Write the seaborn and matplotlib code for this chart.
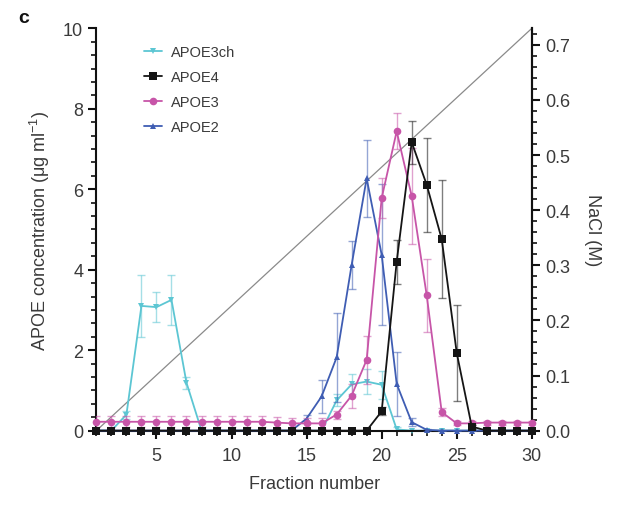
import numpy as np
import pandas as pd
import seaborn as sns
import matplotlib.pyplot as plt
from matplotlib.ticker import MultipleLocator, AutoMinorLocator

# 画分番号
fraction = list(range(1, 31))

# APOE3ch (シアン)
apoe3ch = [0, 0, 0.4, 3.1, 3.07, 3.25, 1.19, 0, 0, 0, 0, 0, 0, 0, 0, 0,
           0.75, 1.15, 1.22, 1.14, 0.03, 0, 0, 0, 0, 0, 0, 0, 0, 0]
apoe3ch_err = [0, 0, 0.1, 0.78, 0.37, 0.62, 0.15, 0, 0, 0, 0, 0, 0, 0, 0, 0,
               0.15, 0.25, 0.3, 0.35, 0.05, 0, 0, 0, 0, 0, 0, 0, 0, 0]

# APOE4 (黒)
apoe4 = [0] * 19 + [0.48, 4.2, 7.17, 6.11, 4.76, 1.93, 0.1, 0, 0, 0, 0]
apoe4_err = [0.02] * 19 + [0.1, 0.55, 0.53, 1.17, 1.47, 1.2, 0.05, 0, 0, 0, 0]

# APOE3 (マゼンタ)
apoe3 = [0.22] * 12 + [0.2, 0.18, 0.18, 0.18] + [0.4, 0.87, 1.76, 5.78, 7.44, 5.83,
                                                 3.36, 0.46, 0.18, 0.18, 0.2, 0.2, 0.2, 0.2]
apoe3_err = [0.14] * 16 + [0.1, 0.3, 0.6, 0.5, 0.45, 1.2, 0.9, 0.1, 0.05, 0.05,
                           0.05, 0.05, 0.05, 0.05]

# APOE2 (青)
apoe2 = [0] * 14 + [0.3, 0.85, 1.82, 4.12, 6.27, 4.37, 1.16, 0.21, 0.02,
                    0, 0, 0, 0, 0, 0, 0]
apoe2_err = [0] * 14 + [0.1, 0.4, 1.1, 0.6, 0.95, 1.75, 0.8, 0.1, 0.02,
                        0, 0, 0, 0, 0, 0, 0]

# NaCl 勾配 (右軸)
nacl_x = [1, 30]
nacl_y = [0, 0.73]

series = [
    ("APOE3ch", apoe3ch, apoe3ch_err, "#5cc6d3", "v", 5, 2),
    ("APOE2", apoe2, apoe2_err, "#3f5db3", "^", 5, 3),
    ("APOE3", apoe3, apoe3_err, "#c755a8", "o", 5.5, 4),
    ("APOE4", apoe4, apoe4_err, "#151515", "s", 5.5, 5),
]
legend_order = ["APOE3ch", "APOE4", "APOE3", "APOE2"]

sns.set_theme(style="ticks")
plt.rcParams["font.family"] = ["Liberation Sans", "DejaVu Sans"]
plt.rcParams["mathtext.fontset"] = "custom"
plt.rcParams["mathtext.rm"] = "Liberation Sans"
text_color = "#3a3a3a"

fig = plt.figure(figsize=(6.22, 5.06), dpi=100)
ax = fig.add_axes([0.155, 0.147, 0.700, 0.795])
ax2 = ax.twinx()

# NaCl の直線
sns.lineplot(x=nacl_x, y=nacl_y, ax=ax2, color="#8a8a8a", linewidth=0.9)
ax2.set_ylim(0, 0.73)

handles = {}
for name, vals, errs, color, marker, ms, z in series:
    df = pd.DataFrame({"fraction": fraction, "value": vals})
    ax.errorbar(fraction, vals, yerr=errs, fmt="none", ecolor=color,
                elinewidth=1.0, capsize=3, capthick=1.0, alpha=0.55, zorder=z)
    sns.lineplot(data=df, x="fraction", y="value", ax=ax, color=color,
                 marker=marker, markersize=ms, markeredgewidth=0,
                 linewidth=1.3, zorder=z + 0.5, clip_on=False)
    handles[name] = ax.lines[-1]

ax.set_zorder(ax2.get_zorder() + 1)
ax.patch.set_visible(False)

ax.set_xlim(1, 30)
ax.set_ylim(0, 10)
ax.xaxis.set_major_locator(MultipleLocator(5))
ax.xaxis.set_minor_locator(MultipleLocator(1))
ax.yaxis.set_major_locator(MultipleLocator(2))
ax.yaxis.set_minor_locator(AutoMinorLocator(6))
ax2.yaxis.set_major_locator(MultipleLocator(0.1))
ax2.yaxis.set_minor_locator(MultipleLocator(0.02))
ax2.set_yticklabels([f"{v:.1f}" for v in ax2.get_yticks()])

for a in (ax, ax2):
    a.spines["top"].set_visible(False)
    for s in ("left", "right", "bottom"):
        a.spines[s].set_linewidth(1.5)
        a.spines[s].set_color("#111111")
    a.tick_params(which="major", length=6, width=1.5, colors="#111111",
                  labelsize=13, labelcolor=text_color, direction="out")
    a.tick_params(which="minor", length=3.5, width=1.2, colors="#111111",
                  direction="out")
ax2.spines["left"].set_visible(False)
ax2.spines["bottom"].set_visible(False)
ax.tick_params(axis="x", which="major", pad=6)

ax.set_xlabel("Fraction number", fontsize=13, color=text_color, labelpad=8)
ax.set_ylabel("APOE concentration (\u03bcg ml$^{-1}$)", fontsize=13,
              color=text_color, labelpad=8)
ax2.set_ylabel("NaCl (M)", fontsize=13, color=text_color, rotation=270,
               labelpad=22)

ax.legend([handles[n] for n in legend_order], legend_order, loc="upper left",
          bbox_to_anchor=(0.08, 0.99), frameon=False, fontsize=10.5,
          handlelength=1.2, handletextpad=0.6, labelspacing=0.75,
          labelcolor=text_color)

fig.text(0.03, 0.955, "c", fontsize=14, fontweight="bold", color="#111111")

fig.savefig("out.png", dpi=100)
plt.close(fig)
